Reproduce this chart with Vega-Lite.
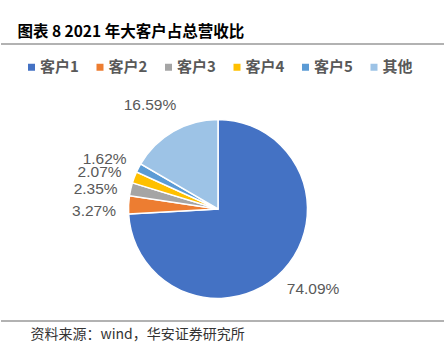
{
  "$schema": "https://vega.github.io/schema/vega-lite/v6.json",
  "padding": {"left": 0, "top": 24, "right": 4, "bottom": 0},
  "background": "white",
  "title": {"text": "图表 8 2021 年大客户占总营收比", "anchor": "start", "dx": 17, "offset": 3, "font": "Noto Sans CJK SC", "fontSize": 15.5, "fontWeight": "bold", "color": "#000000", "baseline": "top"},
  "vconcat": [
    {
      "width": 443,
      "height": 277,
      "title": {"text": "资料来源：wind，华安证券研究所", "orient": "bottom", "anchor": "start", "dx": 30, "offset": 6, "font": "Noto Sans CJK SC", "fontSize": 14, "fontWeight": "normal", "color": "#333333", "baseline": "top"},
      "layer": [
        {
          "data": {"values": [{"edge": "top"}, {"edge": "bottom"}]},
          "mark": {"type": "rule", "color": "#666666", "strokeWidth": 1.2},
          "encoding": {
            "y": {"field": "edge", "type": "nominal", "scale": {"type": "point", "domain": ["top", "bottom"], "padding": 0}, "axis": null}
          }
        },
        {
          "data": {"name": "pie"},
          "mark": {"type": "arc", "outerRadius": 89.5, "stroke": "#ffffff", "strokeWidth": 1.5, "xOffset": -4.5, "yOffset": 26.5},
          "encoding": {
            "theta": {"field": "share", "type": "quantitative", "stack": true},
            "order": {"field": "order", "type": "quantitative"},
            "color": {
              "field": "name", "type": "nominal",
              "scale": {"domain": ["客户1", "客户2", "客户3", "客户4", "客户5", "其他"], "range": ["#4472C4", "#ED7D31", "#A5A5A5", "#FFC000", "#5B9BD5", "#9DC3E6"]},
              "legend": {"title": null, "orient": "none", "direction": "horizontal", "legendX": 23, "legendY": 15.5, "symbolType": "square", "symbolSize": 49, "symbolStrokeWidth": 0, "labelFont": "Noto Sans CJK SC", "labelFontSize": 15, "labelFontWeight": "bold", "labelColor": "#595959", "labelOffset": 1, "columnPadding": 13.5, "padding": 0}
            }
          }
        },
        {
          "data": {"name": "pie"},
          "mark": {"type": "text", "radius": 124, "thetaOffset": -0.06, "font": "Liberation Sans", "fontSize": 15.5, "color": "#595959", "align": "center", "baseline": "middle", "xOffset": -4.5, "yOffset": 26.5},
          "encoding": {
            "theta": {"field": "share", "type": "quantitative", "stack": true},
            "order": {"field": "order", "type": "quantitative"},
            "text": {"field": "share", "type": "quantitative", "format": ".2%"}
          }
        }
      ]
    }
  ],
  "datasets": {
    "pie": [
      {"name": "客户1", "share": 0.7409, "order": 1},
      {"name": "客户2", "share": 0.0327, "order": 2},
      {"name": "客户3", "share": 0.0235, "order": 3},
      {"name": "客户4", "share": 0.0207, "order": 4},
      {"name": "客户5", "share": 0.0162, "order": 5},
      {"name": "其他", "share": 0.1659, "order": 6}
    ]
  },
  "config": {"view": {"stroke": null}, "concat": {"spacing": 0}}
}
